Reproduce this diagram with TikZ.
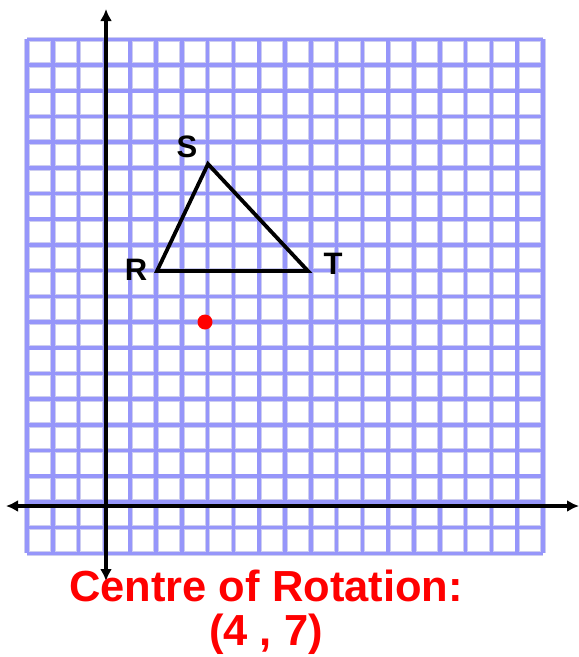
\documentclass[tikz,border=0pt]{standalone}
\usepackage{fontspec}
\setmainfont{Liberation Sans}
\usetikzlibrary{arrows.meta}
\definecolor{gridblue}{RGB}{150,150,250}
\definecolor{gridhalo}{RGB}{205,205,240}
\definecolor{rotred}{RGB}{255,0,0}
\tikzset{
  gridline/.style={draw=gridblue, line width=3.6pt},
  gridsoft/.style={draw=gridhalo, line width=5.4pt},
  axisline/.style={draw=black, line width=3.4pt, -{Latex[length=12pt,width=12pt]}},
  triside/.style={draw=black, line width=3.8pt, line join=miter},
  vlabel/.style={font=\fontsize{31}{31}\selectfont\bfseries, inner sep=0pt},
  caption/.style={font=\fontsize{43.5}{44}\selectfont\bfseries, text=rotred, align=center, inner sep=0pt}
}
\begin{document}
\begin{tikzpicture}[x=1pt,y=-1pt]
\useasboundingbox (0,0) rectangle (579,657);
% grid
\foreach \i in {0,...,20} {
  \draw[gridsoft] ({27+25.8*\i},39.3) -- ({27+25.8*\i},553.3);
  \draw[gridsoft] (27,{39.3+25.7*\i}) -- (543,{39.3+25.7*\i});
}
\foreach \i in {0,...,20} {
  \draw[gridline] ({27+25.8*\i},39.3) -- ({27+25.8*\i},553.3);
  \draw[gridline] (27,{39.3+25.7*\i}) -- (543,{39.3+25.7*\i});
}
% axes
\coordinate (ytop) at (106,9);
\coordinate (ybot) at (106,581);
\coordinate (xleft) at (6,506);
\coordinate (xright) at (579,506);
\draw[axisline] (106,300) -- (ytop);
\draw[axisline] (106,300) -- (ybot);
\draw[axisline] (300,506) -- (xleft);
\draw[axisline] (300,506) -- (xright);
% triangle
\coordinate (R) at (157,271);
\coordinate (S) at (208,164);
\coordinate (T) at (308,271);
\draw[triside] (R) -- (S) -- (T) -- cycle;
\node[vlabel] (lS) at (187,147) {S};
\node[vlabel] (lR) at (136,270) {R};
\node[vlabel] (lT) at (333,264) {T};
% centre of rotation
\fill[rotred] (205,322) circle (7.5);
\node[caption] (cap) at (266,612) {Centre of Rotation:\\(4 , 7)};
\end{tikzpicture}
\end{document}
